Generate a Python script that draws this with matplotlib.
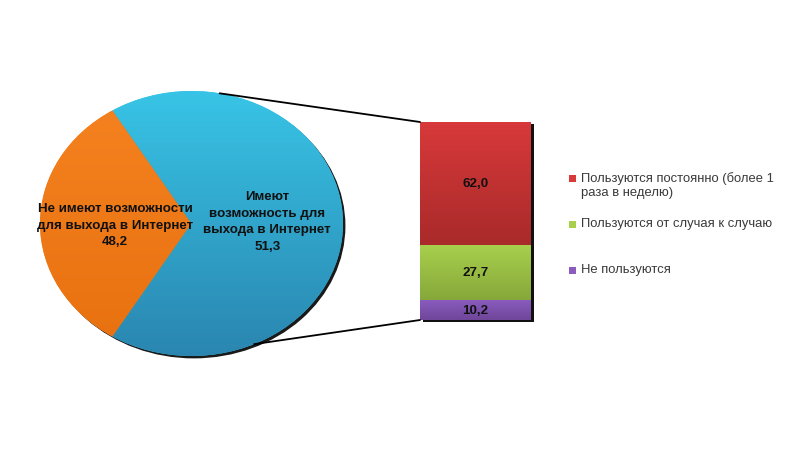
import numpy as np
import matplotlib
matplotlib.use("Agg")
import matplotlib.pyplot as plt
from matplotlib.patches import Ellipse, ConnectionPatch, Rectangle
from matplotlib.colors import LinearSegmentedColormap

plt.rcParams['font.family'] = ['Liberation Sans', 'DejaVu Sans']

# ---- data ----
pie_labels = ["Не имеют возможности\nдля выхода в Интернет\n48,2",
              "Имеют\nвозможность для\nвыхода в Интернет\n51,3"]
pie_no_access = 48.2
bar_categories = ["Пользуются постоянно (более 1\nраза в неделю)",
                  "Пользуются от случая к случаю",
                  "Не пользуются"]
bar_values = [62.0, 27.7, 10.2]
bar_value_labels = ["62,0", "27,7", "10,2"]

# pie-of-bar: the second slice is the sum of the bar values
pie_values = [pie_no_access, sum(bar_values)]

pie_grad = [("#f58220", "#e8700f"), ("#38c4e6", "#2a86b0")]
bar_grad = [("#d8393a", "#a92a2a"), ("#a8cf4c", "#86a83a"), ("#8a5cc0", "#6f4699")]

W, H = 794, 464
fig = plt.figure(figsize=(W / 100, H / 100), dpi=100)


def grad_fill(ax, patch, c_top, c_bot, extent):
    cmap = LinearSegmentedColormap.from_list("g", [c_bot, c_top])
    img = np.linspace(0, 1, 256).reshape(-1, 1)
    im = ax.imshow(img, cmap=cmap, extent=extent, origin="lower",
                   aspect="auto", zorder=patch.get_zorder() + 0.1,
                   interpolation="bilinear")
    im.set_clip_path(patch)


# ---- pie ----
px0, py0, pw, ph = 40, 92, 303, 265
m = 0.06  # margin in radius units
ax_pie = fig.add_axes([(px0 - pw / 2 * m) / W, 1 - (py0 + ph + ph / 2 * m) / H,
                       pw * (1 + m) / W, ph * (1 + m) / H])
frac = pie_values[0] / sum(pie_values)
start = 180 - frac * 360 / 2
shadow = Ellipse((0.016, -0.018), 2, 2, facecolor="#1a1a1a", edgecolor="none", zorder=0)
ax_pie.add_patch(shadow)
wedges, _ = ax_pie.pie(pie_values, startangle=start, counterclock=True,
                       colors=[g[0] for g in pie_grad], radius=1,
                       wedgeprops=dict(linewidth=0))
for w, (ct, cb) in zip(wedges, pie_grad):
    w.set_zorder(1)
    grad_fill(ax_pie, w, ct, cb, [-1.0, 1.0, -1.0, 1.0])
ax_pie.set_aspect("auto")
ax_pie.set_xlim(-1 - m, 1 + m)
ax_pie.set_ylim(-1 - m, 1 + m)
ax_pie.axis("off")

label_pos = [(-0.505, -0.01), (0.50, 0.02)]
for lab, (lx, ly) in zip(pie_labels, label_pos):
    ax_pie.text(lx, ly, lab, ha="center", va="center", fontsize=9.6,
                fontweight="bold", color="#111111", linespacing=1.5, zorder=5)

# ---- bar (first category on top) ----
bx0, by0, bw, bh = 420, 123, 111, 198
ax_bar = fig.add_axes([bx0 / W, 1 - (by0 + bh) / H, bw / W, bh / H])
total = sum(bar_values)
ax_bar.add_patch(Rectangle((-0.5 + 0.025, -1.1), 1.0, total, facecolor="#111111",
                           edgecolor="none", zorder=0, clip_on=False))
top = total
for val, lab, (ct, cb) in zip(bar_values, bar_value_labels, bar_grad):
    bottom = top - val
    b = ax_bar.bar(0, val, bottom=bottom, width=1.0, color=ct, linewidth=0, zorder=1)[0]
    grad_fill(ax_bar, b, ct, cb, [-0.5, 0.5, bottom, top])
    ax_bar.text(0, bottom + val / 2, lab, ha="center", va="center", fontsize=9.6,
                fontweight="bold", color="#111111", zorder=5)
    top = bottom
ax_bar.set_xlim(-0.5, 0.5)
ax_bar.set_ylim(0, total)
ax_bar.axis("off")

# ---- connector lines ----
for ang, yb in [(79.3, total), (-65.6, 0)]:
    t = np.deg2rad(ang)
    con = ConnectionPatch(xyA=(np.cos(t), np.sin(t)), coordsA=ax_pie.transData,
                          xyB=(-0.5, yb), coordsB=ax_bar.transData,
                          color="black", linewidth=1.3, zorder=10)
    fig.add_artist(con)

# ---- legend ----
leg_y = [179, 225, 271]
for cat, (ct, cb), y in zip(bar_categories, bar_grad, leg_y):
    fig.patches.append(Rectangle((569 / W, 1 - (y + 3.5) / H), 7 / W, 7 / H,
                                 facecolor=ct, edgecolor="none",
                                 transform=fig.transFigure, figure=fig))
    fig.text(581 / W, 1 - (y - 7) / H, cat, ha="left", va="top", fontsize=9.4,
             color="#3a3a3a", linespacing=1.25)

fig.savefig("out.png", dpi=100)
